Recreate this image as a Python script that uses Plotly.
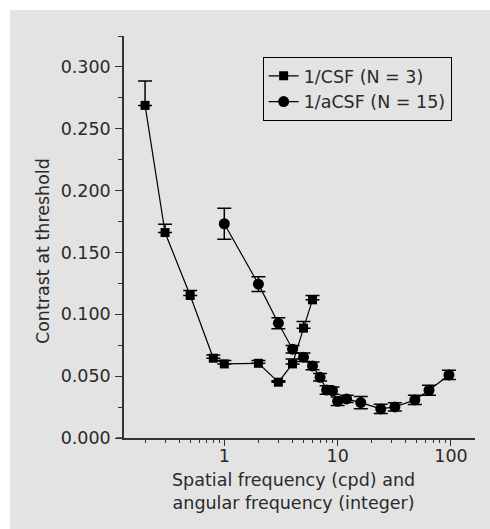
import plotly.graph_objects as go

# ---- data ----
csf_x = [0.2, 0.3, 0.5, 0.8, 1, 2, 3, 4, 5, 6]
csf_y = [0.2689, 0.1661, 0.1152, 0.0645, 0.0599, 0.0604, 0.0451, 0.0599, 0.0888, 0.1117]
csf_err = [0.0198, 0.0068, 0.0040, 0.0027, 0.0027, 0.0022, 0.0012, 0.0040, 0.0053, 0.0035]

acsf_x = [1, 2, 3, 4, 5, 6, 7, 8, 9, 10, 12, 16, 24, 32, 48, 64, 96]
acsf_y = [0.1732, 0.1244, 0.0928, 0.0718, 0.0653, 0.0583, 0.0491, 0.0388, 0.0383,
          0.0297, 0.0316, 0.0286, 0.0235, 0.0251, 0.0308, 0.0386, 0.0510]
acsf_err = [0.0125, 0.006, 0.0045, 0.003, 0.0035, 0.0032, 0.003, 0.0035, 0.003,
            0.0035, 0.003, 0.005, 0.0037, 0.0033, 0.0037, 0.004, 0.0037]

series_names = ["1/CSF (N = 3)", "1/aCSF (N = 15)"]
y_ticks = [0.0, 0.05, 0.10, 0.15, 0.20, 0.25, 0.30]
x_ticks = [1, 10, 100]
x_title = "Spatial frequency (cpd) and<br>angular frequency (integer)"
y_title = "Contrast at threshold"

FONT = "DejaVu Sans"
FS = 17.5
TXT = "#2a2a2a"
AX = "#333333"
BG = "#e3e3e3"

fig = go.Figure()
fig.add_trace(go.Scatter(
    x=csf_x, y=csf_y, mode="lines+markers", name=series_names[0],
    line=dict(color="black", width=1.2),
    marker=dict(symbol="square", size=9, color="black"),
    error_y=dict(type="data", array=csf_err, arrayminus=[0] * len(csf_err),
                 symmetric=False, color="black", thickness=1.5, width=7),
))
fig.add_trace(go.Scatter(
    x=acsf_x, y=acsf_y, mode="lines+markers", name=series_names[1],
    line=dict(color="black", width=1.2),
    marker=dict(symbol="circle", size=11, color="black"),
    error_y=dict(type="data", array=acsf_err, color="black", thickness=1.5, width=7),
))

fig.update_layout(
    width=490, height=529,
    margin=dict(l=124, r=15, t=36, b=91),
    paper_bgcolor="white", plot_bgcolor=BG,
    font=dict(family=FONT, size=FS, color=TXT),
    showlegend=True,
    legend=dict(x=0.395, y=0.948, xanchor="left", yanchor="top",
                bgcolor=BG, bordercolor="black", borderwidth=1,
                font=dict(size=FS, color=TXT), itemwidth=30,
                tracegroupgap=0),
    shapes=[
        dict(type="rect", xref="paper", yref="paper", x0=-0.325, x1=1.05,
             y0=-0.23, y1=1.0647, fillcolor=BG, line=dict(width=0), layer="below"),
        dict(type="line", xref="paper", yref="paper", x0=-0.0228, x1=0,
             y0=0, y1=0, line=dict(color=AX, width=1.5)),
    ],
    annotations=[
        dict(text=y_title, xref="paper", yref="paper", x=-0.2308, y=0.465,
             textangle=-90, showarrow=False, font=dict(size=FS, color=TXT),
             xanchor="center", yanchor="middle"),
        dict(text=x_title, xref="paper", yref="paper", x=0.4815, y=-0.134,
             showarrow=False, font=dict(size=FS, color=TXT),
             xanchor="center", yanchor="middle"),
    ],
)

fig.update_xaxes(
    type="log", range=[-0.885, 2.212],
    tickvals=x_ticks, ticktext=[str(v) for v in x_ticks],
    ticks="outside", ticklen=6, tickwidth=1.2, tickcolor=AX,
    showline=True, linecolor=AX, linewidth=1.5,
    showgrid=False, zeroline=False, ticklabelstandoff=-5,
    minor=dict(ticks="outside", ticklen=3, tickwidth=1.2, tickcolor=AX,
               dtick="D1", showgrid=False),
    tickfont=dict(size=FS, color=TXT),
)
fig.update_yaxes(
    range=[0, 0.325], tickvals=y_ticks, tickformat=".3f",
    ticks="outside", ticklen=7, tickwidth=1.2, tickcolor=AX,
    showline=True, linecolor=AX, linewidth=1.5,
    showgrid=False, zeroline=False, ticklabelstandoff=1,
    minor=dict(ticks="outside", ticklen=4, tickwidth=1.2, tickcolor=AX,
               dtick=0.025, tick0=0, showgrid=False),
    tickfont=dict(size=FS, color=TXT),
)

fig.write_html("out.html")
